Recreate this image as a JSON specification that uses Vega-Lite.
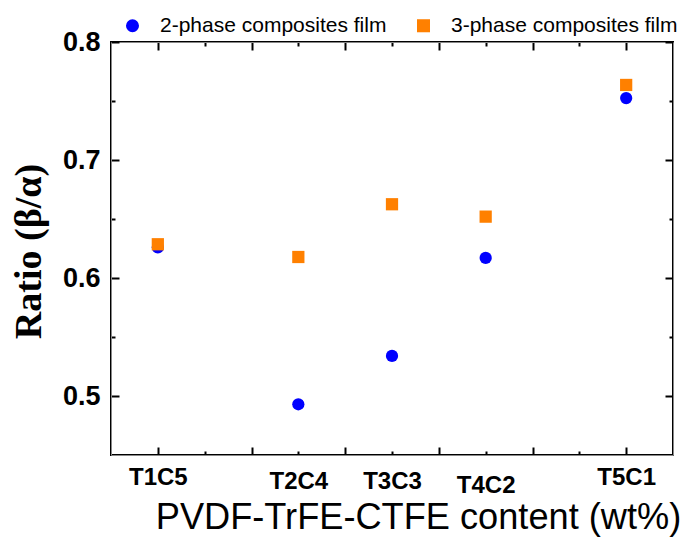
{
  "$schema": "https://vega.github.io/schema/vega-lite/v6.json",
  "width": 562,
  "height": 413,
  "autosize": {"type": "none"},
  "padding": {"left": 111, "top": 42, "right": 7, "bottom": 83},
  "config": {"view": {"stroke": "black", "strokeWidth": 2}},
  "data": {
    "values": [
      {"sample": "T1C5", "pos": 1, "series": "2-phase composites film", "ratio": 0.626},
      {"sample": "T2C4", "pos": 2.5, "series": "2-phase composites film", "ratio": 0.493},
      {"sample": "T3C3", "pos": 3.5, "series": "2-phase composites film", "ratio": 0.534},
      {"sample": "T4C2", "pos": 4.5, "series": "2-phase composites film", "ratio": 0.617},
      {"sample": "T5C1", "pos": 6, "series": "2-phase composites film", "ratio": 0.7525},
      {"sample": "T1C5", "pos": 1, "series": "3-phase composites film", "ratio": 0.6286},
      {"sample": "T2C4", "pos": 2.5, "series": "3-phase composites film", "ratio": 0.6178},
      {"sample": "T3C3", "pos": 3.5, "series": "3-phase composites film", "ratio": 0.6625},
      {"sample": "T4C2", "pos": 4.5, "series": "3-phase composites film", "ratio": 0.652},
      {"sample": "T5C1", "pos": 6, "series": "3-phase composites film", "ratio": 0.7636}
    ]
  },
  "resolve": {"axis": {"x": "independent", "y": "independent"}},
  "layer": [
    {
      "mark": {"type": "point", "filled": true, "opacity": 1, "size": 150},
      "encoding": {
        "x": {
          "field": "pos", "type": "quantitative",
          "scale": {"domain": [0.5, 6.5], "nice": false},
          "axis": {
            "orient": "bottom", "grid": false,
            "tickColor": "black", "tickWidth": 2,
            "values": [1, 1.5, 2, 2.5, 3, 3.5, 4, 4.5, 5, 5.5, 6],
            "labelExpr": "datum.value == 1 ? 'T1C5' : datum.value == 2.5 ? 'T2C4' : datum.value == 3.5 ? 'T3C3' : datum.value == 4.5 ? 'T4C2' : datum.value == 6 ? 'T5C1' : ''",
            "tickSize": {"condition": {"test": "datum.value % 1 == 0", "value": -8}, "value": -4},
            "labelPadding": {"condition": {"test": "datum.value == 4.5", "value": 22}, "value": 18},
            "labelFont": "Liberation Sans", "labelFontSize": 24, "labelFontWeight": "bold", "labelColor": "black",
            "title": "PVDF-TrFE-CTFE content (wt%)",
            "titleFont": "Liberation Sans", "titleFontSize": 36.2, "titleFontWeight": "normal", "titleColor": "black",
            "titleX": 307, "titleY": 62, "titleBaseline": "middle", "titleAnchor": "middle", "titleAlign": "center"
          }
        },
        "y": {
          "field": "ratio", "type": "quantitative",
          "scale": {"domain": [0.45, 0.8], "nice": false, "zero": false},
          "axis": {
            "orient": "left", "grid": false,
            "tickColor": "black", "tickWidth": 2,
            "values": [0.5, 0.55, 0.6, 0.65, 0.7, 0.75, 0.8],
            "labelExpr": "abs(datum.value * 10 - round(datum.value * 10)) < 0.001 ? format(datum.value, '.1f') : ''",
            "tickSize": {"condition": {"test": "abs(datum.value * 10 - round(datum.value * 10)) < 0.001", "value": -8}, "value": -4},
            "labelPadding": 19,
            "labelFont": "Liberation Sans", "labelFontSize": 27, "labelFontWeight": "bold", "labelColor": "black",
            "title": "Ratio (β/α)",
            "titleFont": "Liberation Serif", "titleFontSize": 38, "titleFontWeight": "bold", "titleColor": "black",
            "titleX": -82, "titleY": 209, "titleBaseline": "middle", "titleAnchor": "middle", "titleAlign": "center", "titleAngle": -90
          }
        },
        "color": {
          "field": "series", "type": "nominal",
          "scale": {"domain": ["2-phase composites film", "3-phase composites film"], "range": ["#0000ff", "#ff8000"]},
          "legend": {
            "orient": "none", "direction": "horizontal", "legendX": 11, "legendY": -27, "padding": 0,
            "title": null, "labelFont": "Liberation Sans", "labelFontSize": 21, "labelColor": "black", "labelLimit": 0,
            "symbolSize": 170, "labelOffset": 17, "columnPadding": 26, "symbolStrokeWidth": 0
          }
        },
        "shape": {
          "field": "series", "type": "nominal",
          "scale": {"domain": ["2-phase composites film", "3-phase composites film"], "range": ["circle", "square"]},
          "legend": {
            "orient": "none", "direction": "horizontal", "legendX": 11, "legendY": -27, "padding": 0,
            "title": null, "labelFont": "Liberation Sans", "labelFontSize": 21, "labelColor": "black", "labelLimit": 0,
            "symbolSize": 170, "labelOffset": 17, "columnPadding": 26, "symbolStrokeWidth": 0
          }
        }
      }
    },
    {
      "mark": {"type": "point", "opacity": 0},
      "encoding": {
        "x": {"field": "pos", "type": "quantitative",
          "axis": {"orient": "top", "labels": false, "title": null, "grid": false,
            "tickColor": "black", "tickWidth": 2,
            "values": [1, 1.5, 2, 2.5, 3, 3.5, 4, 4.5, 5, 5.5, 6],
            "tickSize": {"condition": {"test": "datum.value % 1 == 0", "value": -8}, "value": -4}}},
        "y": {"field": "ratio", "type": "quantitative",
          "axis": {"orient": "right", "labels": false, "title": null, "grid": false,
            "tickColor": "black", "tickWidth": 2,
            "values": [0.5, 0.55, 0.6, 0.65, 0.7, 0.75, 0.8],
            "tickSize": {"condition": {"test": "abs(datum.value * 10 - round(datum.value * 10)) < 0.001", "value": -8}, "value": -4}}}
      }
    }
  ]
}
